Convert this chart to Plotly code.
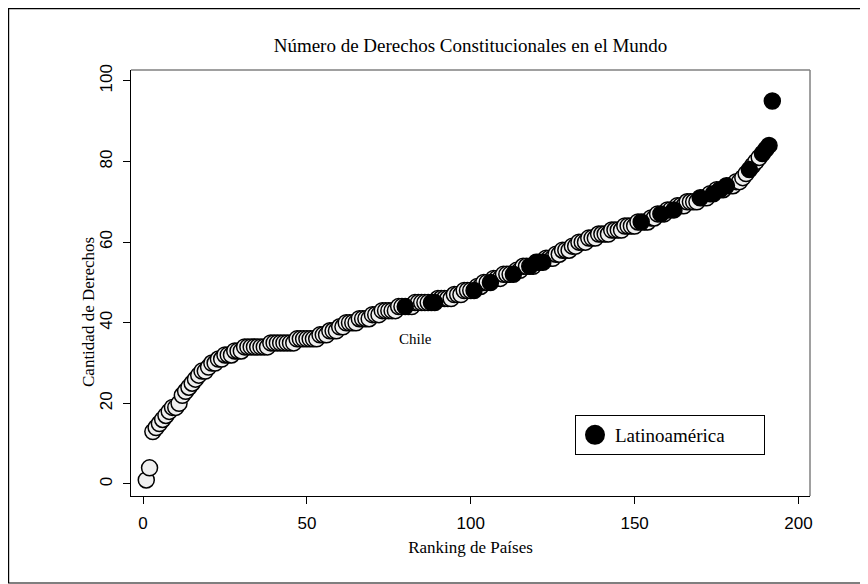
import plotly.graph_objects as go

# Number of constitutional rights per country, sorted ascending (rank 1..192)
derechos = [
    1, 4, 13, 14, 15, 16, 17, 18, 19, 19,
    20, 22, 23, 24, 25, 26, 27, 28, 28, 29,
    30, 30, 31, 31, 32, 32, 32, 33, 33, 33,
    34, 34, 34, 34, 34, 34, 34, 34, 35, 35,
    35, 35, 35, 35, 35, 35, 36, 36, 36, 36,
    36, 36, 36, 37, 37, 37, 38, 38, 38, 39,
    39, 40, 40, 40, 40, 41, 41, 41, 41, 42,
    42, 42, 43, 43, 43, 43, 43, 44, 44, 44,
    44, 44, 45, 45, 45, 45, 45, 45, 45, 46,
    46, 46, 46, 46, 47, 47, 47, 48, 48, 48,
    48, 49, 49, 50, 50, 50, 51, 51, 51, 52,
    52, 52, 52, 53, 53, 54, 54, 54, 54, 55,
    55, 55, 56, 56, 56, 57, 57, 58, 58, 58,
    59, 59, 60, 60, 60, 61, 61, 61, 62, 62,
    62, 62, 63, 63, 63, 63, 64, 64, 64, 64,
    65, 65, 65, 65, 66, 66, 67, 67, 67, 68,
    68, 68, 69, 69, 69, 70, 70, 70, 70, 71,
    71, 71, 72, 72, 73, 73, 73, 74, 74, 74,
    75, 75, 76, 77, 78, 79, 80, 81, 82, 83,
    84, 95,
]

# Ranks of Latin American countries
latam_ranks = [80, 88, 89, 101, 106, 113, 118, 120, 122, 152, 158, 162,
               170, 174, 176, 178, 185, 189, 190, 191, 192]

x_ticks = [0, 50, 100, 150, 200]
y_ticks = [0, 20, 40, 60, 80, 100]

ranking = list(range(1, len(derechos) + 1))
otros_x = [r for r in ranking if r not in latam_ranks]
otros_y = [derechos[r - 1] for r in otros_x]
lat_x = [r for r in ranking if r in latam_ranks]
lat_y = [derechos[r - 1] for r in lat_x]

SERIF = "Liberation Serif, Times New Roman, serif"
SANS = "Liberation Sans, Arial, sans-serif"

fig = go.Figure()
fig.add_trace(go.Scatter(
    x=otros_x, y=otros_y, mode="markers", name="Resto del mundo",
    showlegend=False,
    marker=dict(size=16, color="#efefef", line=dict(color="black", width=1.5)),
))
fig.add_trace(go.Scatter(
    x=lat_x, y=lat_y, mode="markers", name="Latinoamérica",
    showlegend=False, legendgroup="lat",
    marker=dict(size=16, color="black", line=dict(color="black", width=1.5)),
))
# legend entry (larger symbol, as in the original key)
fig.add_trace(go.Scatter(
    x=[None], y=[None], mode="markers", name="Latinoamérica",
    legendgroup="lat", showlegend=True,
    marker=dict(size=16, color="black", line=dict(color="black", width=4)),
))

fig.add_annotation(x=83, y=36, text="Chile", showarrow=False,
                   font=dict(family=SERIF, size=15, color="black"))

# page body adds an 8px offset: figure pixel = screen pixel - 8
W, H = 860, 576
L, R, T, B = 123, 802, 62, 488
pw, ph = R - L, B - T

def px_to_paper_x(px):
    return (px - L) / pw

def px_to_paper_y(py):
    return (B - py) / ph

# y axis title
fig.add_annotation(xref="paper", yref="paper",
                   x=px_to_paper_x(80), y=px_to_paper_y(304),
                   text="Cantidad de Derechos", textangle=-90, showarrow=False,
                   xanchor="center", yanchor="middle",
                   font=dict(family=SERIF, size=17, color="black"))

# outer border of the image
fig.add_shape(type="rect", xref="paper", yref="paper",
              x0=px_to_paper_x(0.6), x1=px_to_paper_x(858),
              y0=px_to_paper_y(575), y1=px_to_paper_y(0.6),
              line=dict(color="black", width=1.2))
# gray top and right frame
fig.add_shape(type="line", xref="paper", yref="paper", x0=0, x1=1, y0=1, y1=1,
              line=dict(color="#808080", width=1.5))
fig.add_shape(type="line", xref="paper", yref="paper", x0=1, x1=1, y0=0, y1=1,
              line=dict(color="#808080", width=1.5))

fig.update_layout(
    width=W, height=H,
    margin=dict(l=L, r=W - R, t=T, b=H - B, pad=0, autoexpand=False),
    paper_bgcolor="white", plot_bgcolor="white",
    title=dict(text="Número de Derechos Constitucionales en el Mundo",
               x=(L + R) / 2 / W, xanchor="center",
               y=1 - 37 / H, yanchor="middle", automargin=False,
               font=dict(family=SERIF, size=19, color="black")),
    xaxis=dict(range=[-3.66, 203.5], tickvals=x_ticks, ticks="outside",
               ticklen=7, tickcolor="black", showgrid=False, zeroline=False,
               showline=True, linecolor="black", linewidth=1,
               automargin=False, ticklabelstandoff=5,
               tickfont=dict(family=SANS, size=17, color="black"),
               title=dict(text="Ranking de Países", standoff=8,
                          font=dict(family=SERIF, size=17, color="black"))),
    yaxis=dict(range=[-2.98, 102.7], tickvals=y_ticks, ticks="outside",
               ticklen=7, tickcolor="black", showgrid=False, zeroline=False,
               showline=True, linecolor="black", linewidth=1, tickangle=-90,
               automargin=False, ticklabelstandoff=4,
               tickfont=dict(family=SANS, size=17, color="black")),
    legend=dict(x=px_to_paper_x(567), y=px_to_paper_y(407),
                xanchor="left", yanchor="top", orientation="h",
                entrywidth=144, bordercolor="black", borderwidth=1,
                bgcolor="white",
                font=dict(family=SERIF, size=19, color="black")),
    showlegend=True,
)

fig.write_html("out.html")
